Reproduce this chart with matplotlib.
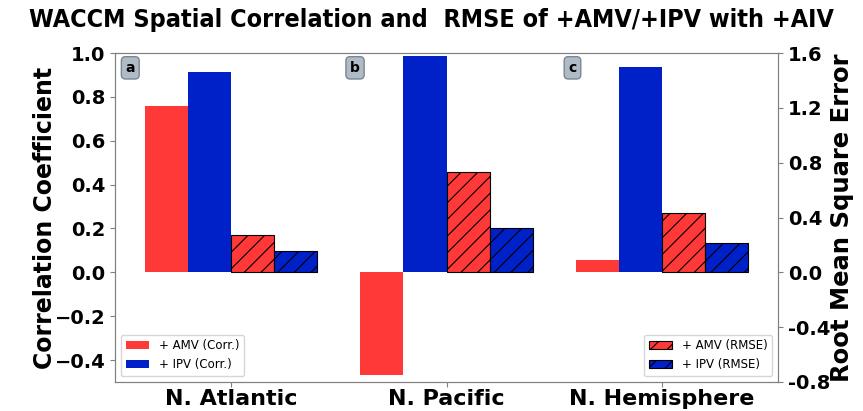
import matplotlib
matplotlib.use("Agg")
import matplotlib.pyplot as plt
import numpy as np

regions = ["N. Atlantic", "N. Pacific", "N. Hemisphere"]
amv_corr = [0.76, -0.47, 0.055]
ipv_corr = [0.915, 0.985, 0.935]
amv_rmse = [0.27, 0.73, 0.43]
ipv_rmse = [0.155, 0.325, 0.215]
corr_ticks = [-0.4, -0.2, 0.0, 0.2, 0.4, 0.6, 0.8, 1.0]
rmse_ticks = [-0.8, -0.4, 0.0, 0.4, 0.8, 1.2, 1.6]
panel_letters = ["a", "b", "c"]

red = "#FF3838"
blue = "#0020C8"
plt.rcParams['hatch.linewidth'] = 0.8

fig = plt.figure(figsize=(8.63, 4.11), dpi=100)
ax = fig.add_axes([0.1333, 0.0706, 0.7682, 0.8004])
ax2 = ax.twinx()

x = np.arange(len(regions))
w = 0.2
b1 = ax.bar(x - 0.3, amv_corr, w, color=red, label="+ AMV (Corr.)")
b2 = ax.bar(x - 0.1, ipv_corr, w, color=blue, label="+ IPV (Corr.)")
b3 = ax2.bar(x + 0.1, amv_rmse, w, color=red, hatch="//", edgecolor="black",
             linewidth=0.8, label="+ AMV (RMSE)")
b4 = ax2.bar(x + 0.3, ipv_rmse, w, color=blue, hatch="//", edgecolor="black",
             linewidth=0.8, label="+ IPV (RMSE)")

ax.set_ylim(-0.5, 1.0)
ax2.set_ylim(-0.8, 1.6)
ax.set_yticks(corr_ticks)
ax2.set_yticks(rmse_ticks)
ax2.set_yticklabels([f"{t:.1f}" for t in rmse_ticks])
ax.set_xticks(x)
ax.set_xticklabels(regions, fontsize=16, fontweight="bold")
ax.tick_params(axis="x", pad=1.5)
for lab in ax.get_yticklabels():
    lab.set_fontsize(14); lab.set_fontweight("bold")
for lab in ax2.get_yticklabels():
    lab.set_fontsize(14); lab.set_fontweight("bold")

ax.set_ylabel("Correlation Coefficient", fontsize=17, fontweight="bold",
              labelpad=-2)
ax2.set_ylabel("Root Mean Square Error", fontsize=17.5, fontweight="bold",
               labelpad=0)

for a in (ax, ax2):
    for s in a.spines.values():
        s.set_color("#808080")
    a.tick_params(color="#808080")

ax.legend(handles=[b1, b2], loc="lower left", fontsize=8.5,
          handlelength=2.0)
ax2.legend(handles=[b3, b4], loc="lower right", fontsize=8.5,
           handlelength=2.0)

for xf, letter in zip([0.023, 0.362, 0.69], panel_letters):
    ax.text(xf, 0.955, letter, transform=ax.transAxes, fontsize=10,
            fontweight="bold", ha="center", va="center",
            bbox=dict(boxstyle="round,pad=0.3", fc="#AFBCC8", ec="#7A8690"))

fig.suptitle("WACCM Spatial Correlation and  RMSE of +AMV/+IPV with +AIV",
             fontsize=18, fontweight="bold", fontstretch="condensed",
             x=0.50, y=0.98)

fig.savefig("out.png", dpi=100)
